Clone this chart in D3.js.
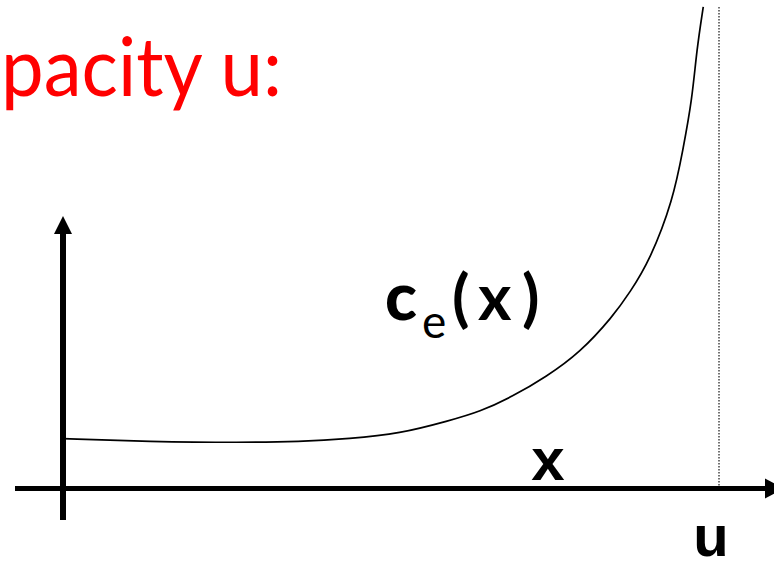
<!DOCTYPE html>
<html>
<head>
<meta charset="utf-8">
<script src="https://cdn.jsdelivr.net/npm/d3@7"></script>
<style>
  html, body { margin: 0; padding: 0; background: #fff; overflow: hidden; }
  svg { display: block; }
</style>
</head>
<body>
<div id="chart"></div>
<script>
// cost curve c_e(x) for an edge with capacity u
const flowValues = [0, 0.131, 0.273, 0.360, 0.437, 0.513, 0.589, 0.635, 0.685, 0.737,
                    0.788, 0.838, 0.864, 0.895, 0.930, 0.945, 0.959, 0.966, 0.976];
const costValues = [1.02, 0.96, 0.94, 0.96, 1.02, 1.12, 1.39, 1.57, 1.88, 2.29,
                    2.78, 3.52, 4.01, 4.68, 5.91, 6.93, 7.96, 8.98, 9.86];
const capacity = 1;
const titleText = "pacity u:";
const xLabel = "x";
const capLabel = "u";

const width = 774;
const height = 561;

const svg = d3.select("#chart")
    .append("svg")
    .attr("width", width)
    .attr("height", height);

const x = d3.scaleLinear().domain([0, capacity]).range([63, 719]);
const y = d3.scaleLinear().domain([0, 10]).range([488.5, 0]);

const points = flowValues.map((f, i) => ({ f, c: costValues[i] }));

// title (cropped slide heading)
svg.append("text")
    .attr("x", 1)
    .attr("y", 96)
    .attr("textLength", 281)
    .attr("lengthAdjust", "spacingAndGlyphs")
    .style("font-family", "'Comic Sans MS', Lato, sans-serif")
    .style("font-size", "82px")
    .style("fill", "#ff0000")
    .text(titleText);

// dotted capacity line
svg.append("line")
    .attr("x1", x(capacity)).attr("x2", x(capacity))
    .attr("y1", 7).attr("y2", y(0))
    .attr("stroke", "#444")
    .attr("stroke-width", 1.5)
    .attr("stroke-dasharray", "1.5,1.5");

// axes
svg.append("line")
    .attr("x1", x(0)).attr("x2", x(0))
    .attr("y1", 520).attr("y2", 232)
    .attr("stroke", "#000")
    .attr("stroke-width", 6);
svg.append("path")
    .attr("d", `M${x(0)},216L${x(0) - 9},234L${x(0) + 9},234Z`)
    .attr("fill", "#000");

svg.append("line")
    .attr("x1", 15).attr("x2", 766)
    .attr("y1", y(0)).attr("y2", y(0))
    .attr("stroke", "#000")
    .attr("stroke-width", 5);
svg.append("path")
    .attr("d", `M784,${y(0)}L765,${y(0) - 10}L765,${y(0) + 10}Z`)
    .attr("fill", "#000");

// curve
const line = d3.line()
    .x(d => x(d.f))
    .y(d => y(d.c))
    .curve(d3.curveBasis);

svg.append("path")
    .datum(points)
    .attr("d", line)
    .attr("fill", "none")
    .attr("stroke", "#000")
    .attr("stroke-width", 1.7);

// curve label c_e(x)
const labelFont = "'Comic Sans MS', Lato, sans-serif";
svg.append("text")
    .attr("x", 385).attr("y", 320)
    .style("font-family", labelFont)
    .style("font-size", "66px")
    .style("font-weight", "900")
    .text("c");
svg.append("text")
    .attr("x", 422).attr("y", 338)
    .style("font-family", labelFont)
    .style("font-size", "46px")
    .text("e");
const paren = svg.append("text")
    .attr("y", 320)
    .style("font-family", labelFont)
    .style("font-size", "64px")
    .style("font-weight", "700");
paren.append("tspan").attr("x", 452).text("(");
paren.append("tspan").attr("x", 478).text("x");
paren.append("tspan").attr("x", 522).text(")");

// axis labels
svg.append("text")
    .attr("x", 548).attr("y", 480)
    .attr("text-anchor", "middle")
    .style("font-family", "'Liberation Sans', Arial, sans-serif")
    .style("font-size", "60px")
    .style("font-weight", "bold")
    .text(xLabel);

svg.append("text")
    .attr("x", x(capacity) - 8).attr("y", 556)
    .attr("text-anchor", "middle")
    .style("font-family", "'Liberation Sans', Arial, sans-serif")
    .style("font-size", "58px")
    .style("font-weight", "bold")
    .text(capLabel);
</script>
</body>
</html>
